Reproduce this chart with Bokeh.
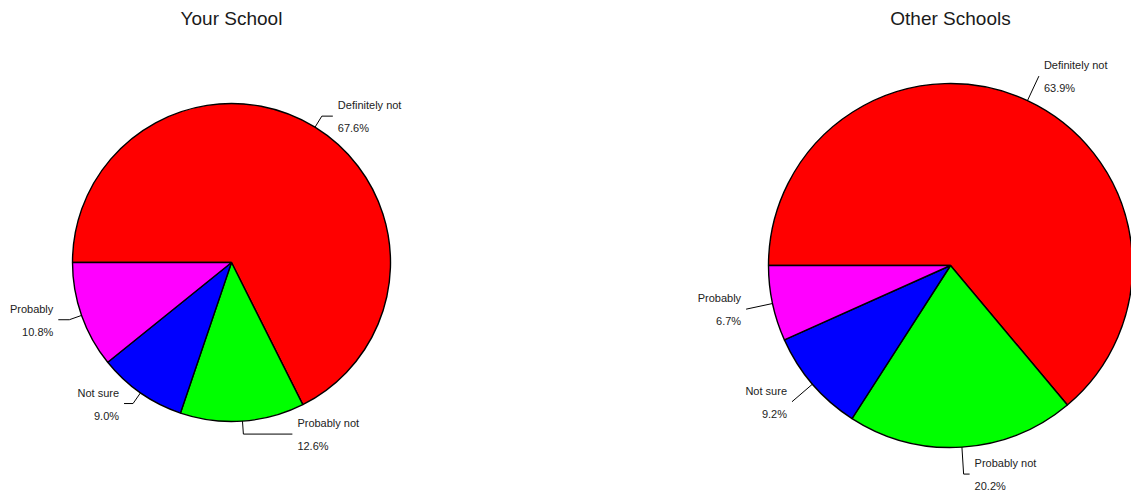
import numpy as np
from bokeh.plotting import figure
from bokeh.models import Range1d, ColumnDataSource
from bokeh.core.properties import value
from bokeh.embed import file_html
from bokeh.resources import INLINE

# Survey answers, shares in percent
categories = ["Definitely not", "Probably not", "Not sure", "Probably"]
your_school = [67.6, 12.6, 9.0, 10.8]
other_schools = [63.9, 20.2, 9.2, 6.7]
slice_colors = ["#FF0000", "#00FF00", "#0000FF", "#FF00FF"]
titles = ["Your School", "Other Schools"]

W, H = 1131, 491
FONT = "Liberation Sans"

p = figure(width=W, height=H, x_range=Range1d(0, W), y_range=Range1d(0, H),
           output_backend="svg", toolbar_location=None, min_border=0)
p.axis.visible = False
p.grid.visible = False
p.outline_line_color = None
p.background_fill_color = "white"

# layout of each pie: centre (x, y from bottom), radius, leader extension,
# horizontal leader lengths per slice
pies = [
    dict(vals=your_school, title=titles[0], cx=231, cy=H - 262, r=159,
         ext=13, hlen=[11, 49, 9, 11]),
    dict(vals=other_schools, title=titles[1], cx=950, cy=H - 265, r=182,
         ext=27, hlen=[0, 6, 0, 0]),
]

for pie in pies:
    vals = np.array(pie["vals"], dtype=float)
    frac = vals / vals.sum()
    cum = np.concatenate([[0.0], np.cumsum(frac)])
    # slices run clockwise from 9 o'clock
    a_from = np.pi - cum[:-1] * 2 * np.pi
    a_to = np.pi - cum[1:] * 2 * np.pi
    src = ColumnDataSource(dict(start=a_to, end=a_from, color=slice_colors))
    cx, cy, r = pie["cx"], pie["cy"], pie["r"]
    p.wedge(x=cx, y=cy, radius=r, start_angle="start", end_angle="end",
            fill_color="color", line_color="black", line_width=1.4, source=src)

    # leader lines and labels
    mid = (a_from + a_to) / 2
    xs, ys = [], []
    nx, ny, vx, vy, align, names, pct = [], [], [], [], [], [], []
    for i, m in enumerate(mid):
        x0, y0 = cx + r * np.cos(m), cy + r * np.sin(m)
        x1, y1 = cx + (r + pie["ext"]) * np.cos(m), cy + (r + pie["ext"]) * np.sin(m)
        side = 1 if np.cos(m) >= 0 else -1
        x2, y2 = x1 + side * pie["hlen"][i], y1
        xs.append([x0, x1, x2])
        ys.append([y0, y1, y2])
        tx = x2 + side * 5
        nx.append(tx); ny.append(y2 + 11)
        vx.append(tx); vy.append(y2 - 12)
        align.append("left" if side > 0 else "right")
        names.append(categories[i])
        pct.append(f"{pie['vals'][i]:.1f}%")
    p.multi_line(xs=xs, ys=ys, line_color="black", line_width=1)
    lab = ColumnDataSource(dict(nx=nx, ny=ny, vx=vx, vy=vy, align=align,
                                names=names, pct=pct))
    p.text(x="nx", y="ny", text="names", text_align="align", text_baseline="middle",
           text_font=value(FONT), text_font_size="11px", text_color="#222222", source=lab)
    p.text(x="vx", y="vy", text="pct", text_align="align", text_baseline="middle",
           text_font=value(FONT), text_font_size="11px", text_color="#222222", source=lab)

    p.text(x=[cx], y=[H - 18], text=[pie["title"]], text_align="center",
           text_baseline="middle", text_font=value(FONT), text_font_size="19px",
           text_color="#1a1a1a")

open("out.html", "w").write(file_html(p, INLINE))
